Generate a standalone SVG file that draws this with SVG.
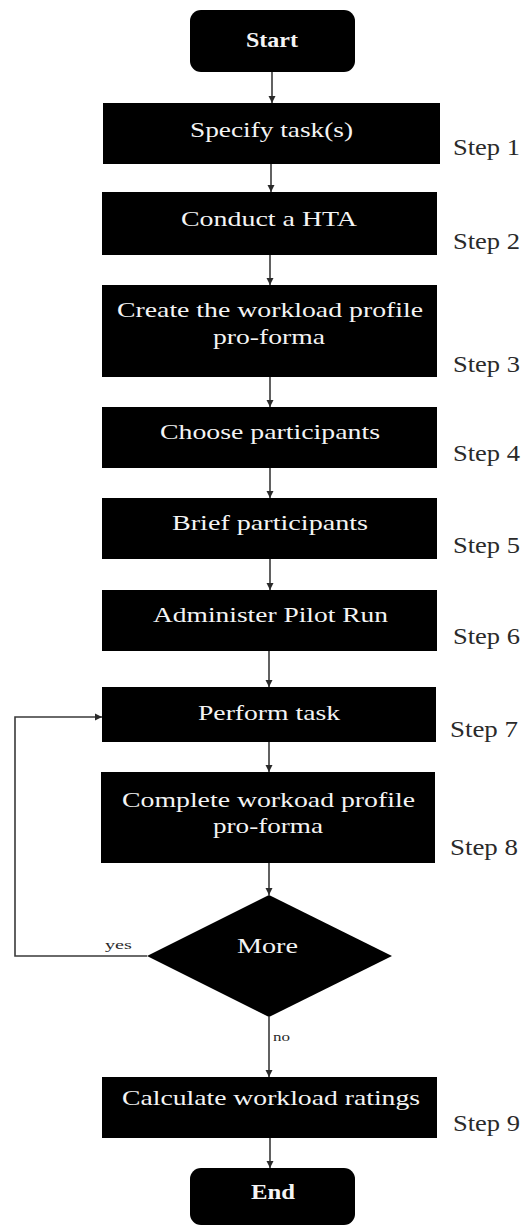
<svg xmlns="http://www.w3.org/2000/svg" width="526" height="1227" viewBox="0 0 526 1227">
  <defs>
    <marker id="arrow" markerWidth="8" markerHeight="8" refX="7" refY="4" orient="auto" markerUnits="userSpaceOnUse">
      <path d="M0,0.5 L7,4 L0,7.5 Z" fill="#2a2a2a"/>
    </marker>
    <style>
      .box { fill: #000; }
      .lbl { fill: #f4f4f4; font-family: "Liberation Serif", "Times New Roman", serif; font-size: 22px; text-anchor: start; }
      .bold { font-weight: bold; }
      .step { fill: #2a2a2a; font-family: "Liberation Serif", "Times New Roman", serif; font-size: 23px; }
      .small { fill: #2a2a2a; font-family: "Liberation Serif", "Times New Roman", serif; font-size: 13px; }
      .conn { fill: none; stroke: #3a3a3a; stroke-width: 1.6; }
    </style>
  </defs>
  <rect width="526" height="1227" fill="#fff"/>

  <!-- connectors -->
  <g id="connectors">
    <line class="conn" x1="272" y1="72" x2="272" y2="103" marker-end="url(#arrow)"/>
    <line class="conn" x1="271" y1="164" x2="271" y2="192" marker-end="url(#arrow)"/>
    <line class="conn" x1="270" y1="255" x2="270" y2="285" marker-end="url(#arrow)"/>
    <line class="conn" x1="270" y1="377" x2="270" y2="407" marker-end="url(#arrow)"/>
    <line class="conn" x1="270" y1="468" x2="270" y2="498" marker-end="url(#arrow)"/>
    <line class="conn" x1="270" y1="559" x2="270" y2="590" marker-end="url(#arrow)"/>
    <line class="conn" x1="269" y1="651" x2="269" y2="687" marker-end="url(#arrow)"/>
    <line class="conn" x1="269" y1="742" x2="269" y2="772" marker-end="url(#arrow)"/>
    <line class="conn" x1="269" y1="863" x2="269" y2="895" marker-end="url(#arrow)"/>
    <line class="conn" x1="269" y1="1017" x2="269" y2="1077" marker-end="url(#arrow)"/>
    <line class="conn" x1="270" y1="1138" x2="270" y2="1168" marker-end="url(#arrow)"/>
    <polyline class="conn" points="147,956 15,956 15,717 102,717" marker-end="url(#arrow)"/>
    <text class="small" x="105" y="949" textLength="27" lengthAdjust="spacingAndGlyphs">yes</text>
    <text class="small" x="273" y="1041" textLength="17" lengthAdjust="spacingAndGlyphs">no</text>
  </g>

  <g id="start">
    <rect class="box" x="190" y="10" width="165" height="62" rx="11"/>
    <text class="lbl bold" x="246" y="47" textLength="52" lengthAdjust="spacingAndGlyphs">Start</text>
  </g>

  <g id="step1">
    <rect class="box" x="103" y="103" width="337" height="61"/>
    <text class="lbl" x="190" y="137" textLength="163" lengthAdjust="spacingAndGlyphs">Specify task(s)</text>
    <text class="step" x="453" y="155" textLength="67" lengthAdjust="spacingAndGlyphs">Step 1</text>
  </g>

  <g id="step2">
    <rect class="box" x="102" y="192" width="335" height="63"/>
    <text class="lbl" x="181" y="226" textLength="176" lengthAdjust="spacingAndGlyphs">Conduct a HTA</text>
    <text class="step" x="453" y="249" textLength="67" lengthAdjust="spacingAndGlyphs">Step 2</text>
  </g>

  <g id="step3">
    <rect class="box" x="102" y="285" width="335" height="92"/>
    <text class="lbl" x="117" y="317" textLength="306" lengthAdjust="spacingAndGlyphs">Create the workload profile</text>
    <text class="lbl" x="213" y="344" textLength="112" lengthAdjust="spacingAndGlyphs">pro-forma</text>
    <text class="step" x="453" y="372" textLength="67" lengthAdjust="spacingAndGlyphs">Step 3</text>
  </g>

  <g id="step4">
    <rect class="box" x="102" y="407" width="335" height="61"/>
    <text class="lbl" x="160" y="439" textLength="220" lengthAdjust="spacingAndGlyphs">Choose participants</text>
    <text class="step" x="453" y="461" textLength="67" lengthAdjust="spacingAndGlyphs">Step 4</text>
  </g>

  <g id="step5">
    <rect class="box" x="102" y="498" width="335" height="61"/>
    <text class="lbl" x="172" y="530" textLength="196" lengthAdjust="spacingAndGlyphs">Brief participants</text>
    <text class="step" x="453" y="553" textLength="67" lengthAdjust="spacingAndGlyphs">Step 5</text>
  </g>

  <g id="step6">
    <rect class="box" x="102" y="590" width="335" height="61"/>
    <text class="lbl" x="153" y="622" textLength="235" lengthAdjust="spacingAndGlyphs">Administer  Pilot Run</text>
    <text class="step" x="453" y="644" textLength="67" lengthAdjust="spacingAndGlyphs">Step 6</text>
  </g>

  <g id="step7">
    <rect class="box" x="102" y="687" width="334" height="55"/>
    <text class="lbl" x="198" y="720" textLength="142" lengthAdjust="spacingAndGlyphs">Perform task</text>
    <text class="step" x="450" y="737" textLength="68" lengthAdjust="spacingAndGlyphs">Step 7</text>
  </g>

  <g id="step8">
    <rect class="box" x="101" y="772" width="334" height="91"/>
    <text class="lbl" x="122" y="807" textLength="293" lengthAdjust="spacingAndGlyphs">Complete workoad profile</text>
    <text class="lbl" x="213" y="833" textLength="110" lengthAdjust="spacingAndGlyphs">pro-forma</text>
    <text class="step" x="450" y="855" textLength="68" lengthAdjust="spacingAndGlyphs">Step 8</text>
  </g>

  <g id="decision">
    <polygon class="box" points="269,895 392,956 269,1017 147,956"/>
    <text class="lbl" x="237" y="953" textLength="61" lengthAdjust="spacingAndGlyphs">More</text>
  </g>

  <g id="step9">
    <rect class="box" x="102" y="1077" width="335" height="61"/>
    <text class="lbl" x="122" y="1105" textLength="298" lengthAdjust="spacingAndGlyphs">Calculate workload ratings</text>
    <text class="step" x="453" y="1131" textLength="67" lengthAdjust="spacingAndGlyphs">Step 9</text>
  </g>

  <g id="end">
    <rect class="box" x="190" y="1168" width="165" height="57" rx="11"/>
    <text class="lbl bold" x="251" y="1199" textLength="44" lengthAdjust="spacingAndGlyphs">End</text>
  </g>
</svg>
